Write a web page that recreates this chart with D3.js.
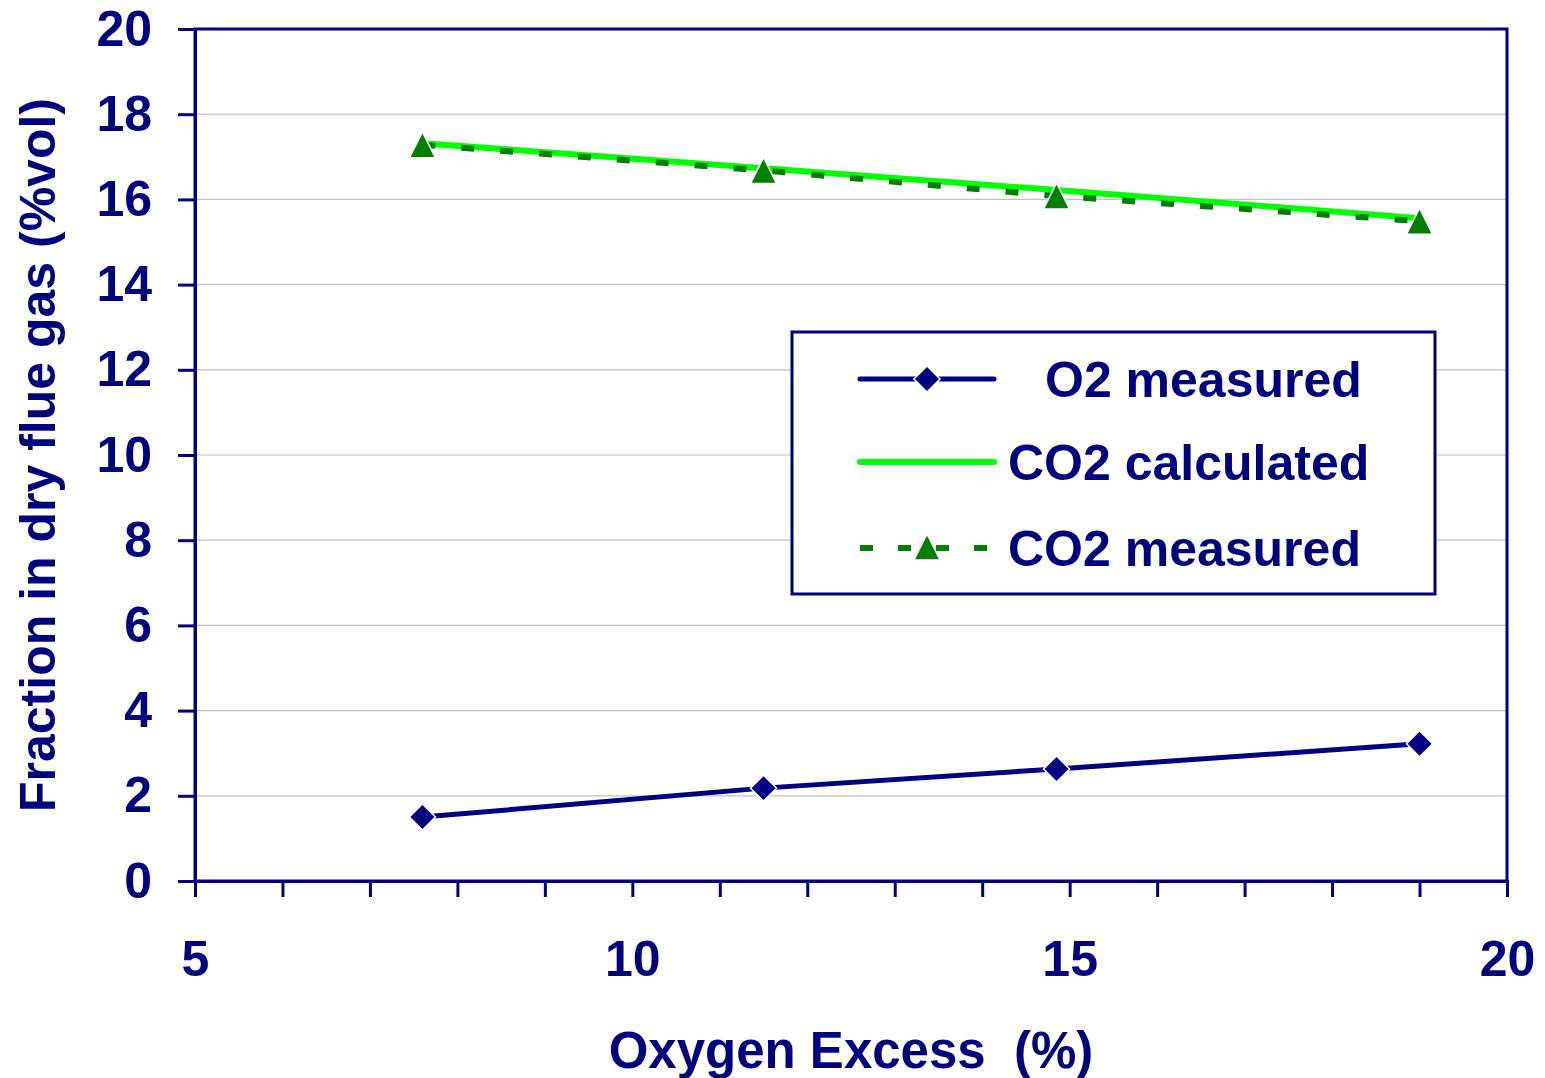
<!DOCTYPE html>
<html>
<head>
<meta charset="utf-8">
<script src="https://cdn.jsdelivr.net/npm/d3@7"></script>
<style>
	body { margin: 0; background: #fff; }
	text { font-family: "Liberation Sans", Arial, sans-serif; font-weight: bold; fill: #000080; }
</style>
</head>
<body>
<div id="chart"></div>
<script>
// data
var oxygenExcess = [7.6, 11.5, 14.85, 19.0];
var o2Measured = [1.50, 2.18, 2.63, 3.22];
var co2Calculated = [17.32, 16.73, 16.22, 15.56];
var co2Measured = [17.28, 16.68, 16.08, 15.49];
var xTicks = d3.range(5, 21, 1);
var yTicks = d3.range(0, 21, 2);
var legendNames = ["O2 measured", "CO2 calculated", "CO2 measured"];

var width = 1545,
	height = 1078,
	plotLeft = 195,
	plotRight = 1507,
	plotTop = 29,
	plotBottom = 881,
	navy = "#000080";

var svg = d3.select("#chart").append("svg")
	.attr("width", width)
	.attr("height", height);

var xScale = d3.scaleLinear().domain([5, 20]).range([plotLeft, plotRight]);
var yScale = d3.scaleLinear().domain([0, 20]).range([plotBottom, plotTop]);

//gridlines
svg.append("g")
	.selectAll("line")
	.data(yTicks.filter(function(d) { return d > 0 && d < 20; }))
	.enter()
	.append("line")
	.attr("x1", plotLeft)
	.attr("x2", plotRight)
	.attr("y1", function(d) { return yScale(d); })
	.attr("y2", function(d) { return yScale(d); })
	.attr("stroke", "#c0c0c0")
	.attr("stroke-width", 1.2);

//frame
svg.append("rect")
	.attr("x", plotLeft)
	.attr("y", plotTop)
	.attr("width", plotRight - plotLeft)
	.attr("height", plotBottom - plotTop)
	.attr("fill", "none")
	.attr("stroke", navy)
	.attr("stroke-width", 3);

//x axis
var xAxis = d3.axisBottom(xScale)
	.tickValues(xTicks)
	.tickSize(16)
	.tickPadding(43)
	.tickFormat(function(d) { return d % 5 === 0 ? d : ""; });

var gx = svg.append("g")
	.attr("transform", `translate(0,${plotBottom})`)
	.call(xAxis);

//y axis
var yAxis = d3.axisLeft(yScale)
	.tickValues(yTicks)
	.tickSize(17)
	.tickPadding(26);

var gy = svg.append("g")
	.attr("transform", `translate(${plotLeft},0)`)
	.call(yAxis);

[gx, gy].forEach(function(g) {
	g.select(".domain").attr("stroke", navy).attr("stroke-width", 3);
	g.selectAll(".tick line").attr("stroke", navy).attr("stroke-width", 3);
	g.selectAll(".tick text")
		.style("font-size", "50px")
		.attr("fill", navy);
});

//axis titles
svg.append("text")
	.attr("x", (plotLeft + plotRight) / 2)
	.attr("y", 1068)
	.attr("text-anchor", "middle")
	.style("font-size", "51px")
	.text("Oxygen Excess\u00a0\u00a0(%)");

svg.append("text")
	.attr("transform", `translate(55,${(plotTop + plotBottom) / 2}) rotate(-90)`)
	.attr("text-anchor", "middle")
	.style("font-size", "50px")
	.text("Fraction in dry flue gas (%vol)");

function pts(ys) {
	return oxygenExcess.map(function(x, i) { return [x, ys[i]]; });
}

var line = d3.line()
	.x(function(d) { return xScale(d[0]); })
	.y(function(d) { return yScale(d[1]); });

var diamond = d3.symbol().type(d3.symbolSquare).size(340);
var triangle = "M0,-13L13,13L-13,13Z";

//O2 measured
svg.append("path")
	.datum(pts(o2Measured))
	.attr("d", line)
	.attr("fill", "none")
	.attr("stroke", navy)
	.attr("stroke-width", 5);

svg.selectAll(".diamond")
	.data(pts(o2Measured))
	.enter()
	.append("path")
	.attr("class", "diamond")
	.attr("d", diamond)
	.attr("transform", function(d) {
		return `translate(${xScale(d[0])},${yScale(d[1])}) rotate(45)`;
	})
	.attr("fill", navy)
	.attr("stroke", "#fff")
	.attr("stroke-width", 1.5);

//CO2 calculated
svg.append("path")
	.datum(pts(co2Calculated))
	.attr("d", line)
	.attr("fill", "none")
	.attr("stroke", "#00ff00")
	.attr("stroke-width", 6);

//CO2 measured
svg.append("path")
	.datum(pts(co2Measured))
	.attr("d", line)
	.attr("fill", "none")
	.attr("stroke", "#008000")
	.attr("stroke-width", 6)
	.attr("stroke-dasharray", "13,26");

svg.selectAll(".triangle")
	.data(pts(co2Measured))
	.enter()
	.append("path")
	.attr("class", "triangle")
	.attr("d", triangle)
	.attr("transform", function(d) {
		return `translate(${xScale(d[0])},${yScale(d[1])})`;
	})
	.attr("fill", "#008000")
	.attr("stroke", "#fff")
	.attr("stroke-width", 1.5);

//legend
var legend = svg.append("g");

legend.append("rect")
	.attr("x", 792)
	.attr("y", 332)
	.attr("width", 643)
	.attr("height", 262)
	.attr("fill", "#fff")
	.attr("stroke", navy)
	.attr("stroke-width", 3);

var rowY = [379, 462, 548],
	textX = [1045, 1008, 1008];

legend.append("line")
	.attr("x1", 860).attr("x2", 994)
	.attr("y1", rowY[0]).attr("y2", rowY[0])
	.attr("stroke", navy).attr("stroke-width", 5)
	.attr("stroke-linecap", "round");
legend.append("path")
	.attr("d", diamond)
	.attr("transform", `translate(927,${rowY[0]}) rotate(45)`)
	.attr("fill", navy)
	.attr("stroke", "#fff")
	.attr("stroke-width", 1.5);

legend.append("line")
	.attr("x1", 860).attr("x2", 994)
	.attr("y1", rowY[1]).attr("y2", rowY[1])
	.attr("stroke", "#00ff00").attr("stroke-width", 6)
	.attr("stroke-linecap", "round");

legend.append("line")
	.attr("x1", 860).attr("x2", 1000)
	.attr("y1", rowY[2]).attr("y2", rowY[2])
	.attr("stroke", "#008000").attr("stroke-width", 6)
	.attr("stroke-dasharray", "13,25");
legend.append("path")
	.attr("d", triangle)
	.attr("transform", `translate(927,${rowY[2] - 1})`)
	.attr("fill", "#008000")
	.attr("stroke", "#fff")
	.attr("stroke-width", 1.5);

legend.selectAll(".legend_text")
	.data(legendNames)
	.enter()
	.append("text")
	.attr("class", "legend_text")
	.attr("x", function(d, i) { return textX[i]; })
	.attr("y", function(d, i) { return rowY[i] + 18; })
	.style("font-size", "50px")
	.text(function(d) { return d; });
</script>
</body>
</html>
